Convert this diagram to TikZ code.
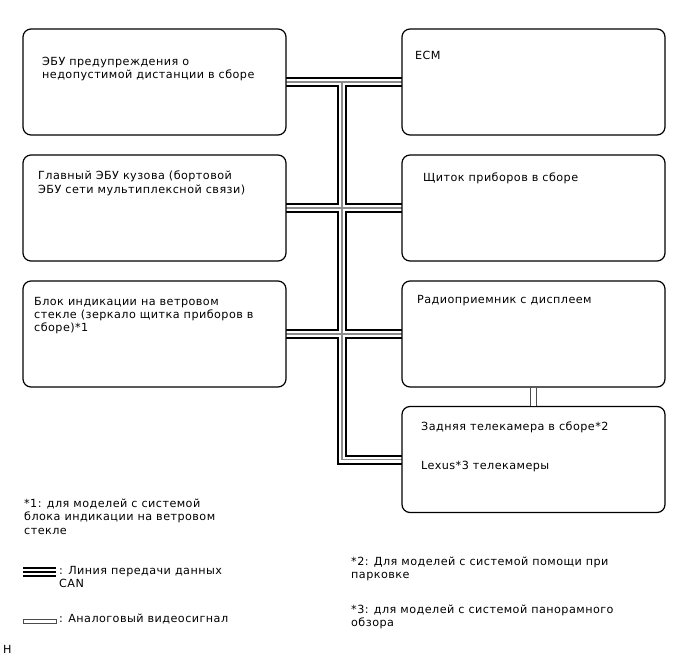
\documentclass[tikz,border=0pt]{standalone}
\usepackage{fontspec}
\setmainfont[LetterSpace=4]{DejaVu Sans}
\begin{document}
\begin{tikzpicture}[x=1pt,y=-1pt,line cap=butt,line join=miter,
 font=\fontsize{11.2}{13.2}\selectfont,
 unit/.style={draw,line width=1.2pt,rounded corners=8pt,fill=white,
   minimum width=263pt,minimum height=106pt,inner sep=0pt},
 txt/.style={anchor=north west,align=left,inner sep=0pt},
 video/.style={draw=black!70,line width=.8pt,double=white,double distance=5pt}]
\useasboundingbox (0,0) rectangle (688,658);
% CAN bus, drawn first so the units sit on top of its ends
\coordinate (jtop) at (342,82);
\foreach \w/\c in {10/black,6/white,1.4/black!45}{
  \draw[line width=\w pt,\c] (286,82)--(402,82);
  \draw[line width=\w pt,\c] (286,208)--(402,208);
  \draw[line width=\w pt,\c] (286,334)--(402,334);
  \draw[line width=\w pt,\c] (jtop)--(342,459.5)--(402,459.5);
}
% units
\node[unit] (pcs) at (154.5,82) {};
\node[unit] (ecm) at (533.5,82) {};
\node[unit] (body) at (154.5,208) {};
\node[unit] (meter) at (533.5,208) {};
\node[unit] (hud) at (154.5,334) {};
\node[unit] (radio) at (533.5,334) {};
\node[unit] (cam) at (533.5,459.5) {};
\draw[video] (radio.south)--(cam.north);
% texts
\node[txt] (pcst) at (42,56.5) {ЭБУ предупреждения о\\недопустимой дистанции в сборе};
\node[txt] (ecmt) at (415,50.5) {ECM};
\node[txt] (bodyt) at (38,171) {Главный ЭБУ кузова (бортовой\\ЭБУ сети мультиплексной связи)};
\node[txt] (metert) at (423,173) {Щиток приборов в сборе};
\node[txt] (hudt) at (34,297) {Блок индикации на ветровом\\стекле (зеркало щитка приборов в\\сборе)*1};
\node[txt] (radiot) at (417,295) {Радиоприемник с дисплеем};
\node[txt] (camt) at (421,421.5) {Задняя телекамера в сборе*2};
\node[txt] (lexust) at (421,460.5) {Lexus*3 телекамеры};
% notes and legend
\node[txt] (note1) at (24,499) {*1: для моделей с системой\\блока индикации на ветровом\\стекле};
\draw[line width=10pt] (23,572)--(56,572);
\draw[line width=6pt,white] (23,572)--(56,572);
\draw[line width=2pt] (23,572)--(56,572);
\node[txt] (cant) at (59,566) {: Линия передачи данных\\CAN};
\draw[line width=.7pt,black!70] (23,619) rectangle (56,623);
\node[txt] (videot) at (59,613.5) {: Аналоговый видеосигнал};
\node[txt] (note2) at (351,557) {*2: Для моделей с системой помощи при\\парковке};
\node[txt] (note3) at (351,604.5) {*3: для моделей с системой панорамного\\обзора};
\node[txt] (mark) at (3,645.5) {H};
\end{tikzpicture}
\end{document}
